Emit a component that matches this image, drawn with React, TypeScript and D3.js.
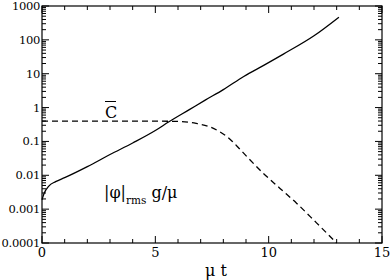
import React from "react";
import * as d3 from "d3";

const phiT = [0, 0.1, 0.3, 0.6, 1.0, 2.0, 3.0, 4.0, 5.0, 5.6, 6.5, 7.2, 8.0, 8.9, 9.8, 10.65, 12.0, 13.1];
const phiV = [0.0019, 0.003, 0.0048, 0.0065, 0.0085, 0.018, 0.041, 0.09, 0.21, 0.38, 0.87, 1.66, 3.4, 8.3, 18, 38, 132, 468];
const cT = [0, 2, 4, 6, 6.8, 7.4, 7.8, 8.15, 8.4, 8.7, 9.05, 9.76, 10.5, 11.23, 12.1, 13.0];
const cV = [0.4, 0.4, 0.4, 0.39, 0.34, 0.27, 0.2, 0.14, 0.1, 0.062, 0.035, 0.0115, 0.0041, 0.0015, 0.0004, 0.0001];
const xTicks = [0, 5, 10, 15];
const yTicks = [1000, 100, 10, 1, 0.1, 0.01, 0.001, 0.0001];
const yTickLabels = ["1000", "100", "10", "1", "0.1", "0.01", "0.001", "0.0001"];

export default function App() {
  const W = 390, H = 280;
  const L = 42, R = 382, T = 6, B = 243;
  const x = d3.scaleLinear().domain([0, 15]).range([L, R]);
  const y = d3.scaleLog().domain([0.0001, 1000]).range([B, T]);
  const line = d3.line<[number, number]>().x(d => x(d[0])).y(d => y(d[1])).curve(d3.curveMonotoneX);
  const phiPath = line(phiT.map((t, i) => [t, phiV[i]] as [number, number])) || "";
  const cPath = line(cT.map((t, i) => [t, cV[i]] as [number, number])) || "";
  const minorX = d3.range(0, 16, 1);
  const minorY: number[] = [];
  for (let e = -4; e < 3; e++) for (let k = 2; k <= 9; k++) minorY.push(k * Math.pow(10, e));
  const font = "DejaVu Serif";
  const majL = 7, minL = 4;
  return (
    <svg width={W} height={H} style={{ position: "absolute", left: 0, top: 0 }}>
      <rect x={0} y={0} width={W} height={H} fill="#fff" />
      {minorX.map(t => {
        const len = t % 5 === 0 ? majL : minL;
        return (
          <g key={"x" + t} stroke="#000" strokeWidth={1}>
            <line x1={x(t)} x2={x(t)} y1={B} y2={B - len} />
            <line x1={x(t)} x2={x(t)} y1={T} y2={T + len} />
          </g>
        );
      })}
      {yTicks.map(v => (
        <g key={"y" + v} stroke="#000" strokeWidth={1}>
          <line x1={L} x2={L + majL} y1={y(v)} y2={y(v)} />
          <line x1={R} x2={R - majL} y1={y(v)} y2={y(v)} />
        </g>
      ))}
      {minorY.map(v => (
        <g key={"ym" + v} stroke="#000" strokeWidth={1}>
          <line x1={L} x2={L + minL} y1={y(v)} y2={y(v)} />
          <line x1={R} x2={R - minL} y1={y(v)} y2={y(v)} />
        </g>
      ))}
      <rect x={L} y={T} width={R - L} height={B - T} fill="none" stroke="#000" strokeWidth={1.2} />
      <g fontFamily={font}>
        {yTicks.map((v, i) => (
          <text key={"yl" + v} x={L - 2} y={y(v)} dy="0.35em" textAnchor="end" fontSize={11.5} letterSpacing={-0.3}>
            {yTickLabels[i]}
          </text>
        ))}
        {xTicks.map(t => (
          <text key={"xl" + t} x={x(t)} y={B + 14} textAnchor="middle" fontSize={13}>
            {t}
          </text>
        ))}
        <text x={216} y={276} textAnchor="middle" fontSize={16}>μ t</text>
        <text x={105} y={118} fontSize={16}>C</text>
        <text x={104} y={198} fontSize={16}>
          |φ|<tspan fontSize={10.5} dy={6}>rms</tspan><tspan dy={-6}> g/μ</tspan>
        </text>
      </g>
      <path d={phiPath} fill="none" stroke="#000" strokeWidth={1.3} />
      <path d={cPath} fill="none" stroke="#000" strokeWidth={1.3} strokeDasharray="6,4" />
      <line x1={105} x2={116} y1={101.5} y2={101.5} stroke="#000" strokeWidth={1} />
    </svg>
  );
}
